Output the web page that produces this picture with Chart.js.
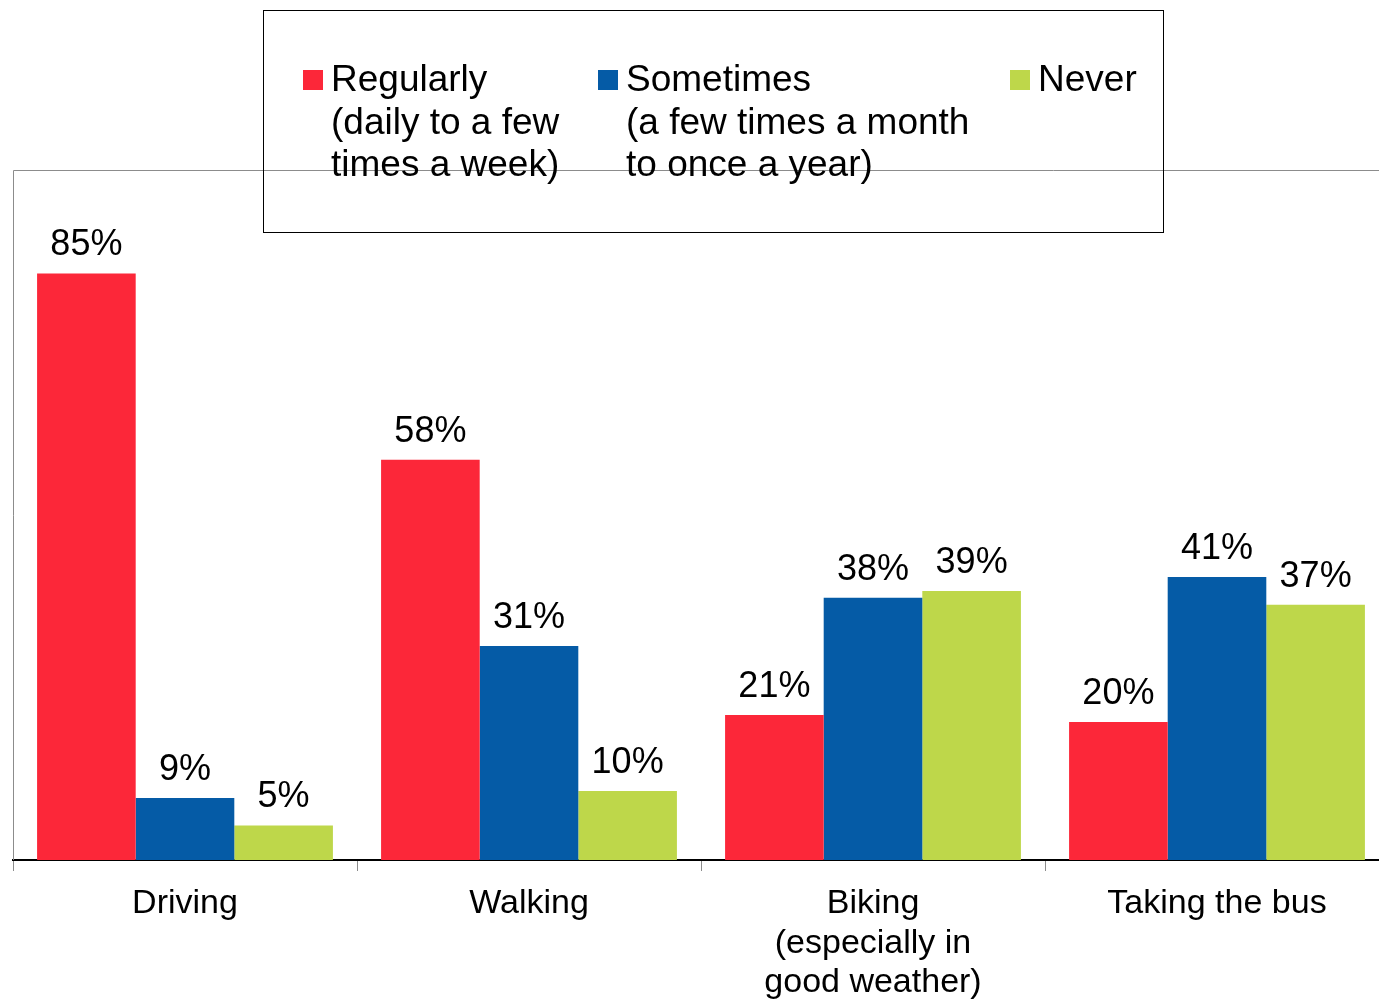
<!DOCTYPE html>
<html>
<head>
<meta charset="utf-8">
<script src="https://cdn.jsdelivr.net/npm/chart.js@4/dist/chart.umd.min.js"></script>
<style>
  html, body { margin: 0; padding: 0; background: #fff; overflow: hidden; }
  #wrap { width: 1400px; height: 999px; }
</style>
</head>
<body>
<div id="wrap"><canvas id="travelChart"></canvas></div>
<script>
const categories = ['Driving', 'Walking', ['Biking', '(especially in', 'good weather)'], 'Taking the bus'];
const regularly = [85, 58, 21, 20];
const sometimes = [9, 31, 38, 41];
const never = [5, 10, 39, 37];
const seriesNames = ['Regularly', 'Sometimes', 'Never'];
const legendLines = [
    ['Regularly', '(daily to a few', 'times a week)'],
    ['Sometimes', '(a few times a month', 'to once a year)'],
    ['Never']
];
const colors = ['#fc2739', '#055ba6', '#bed74a'];

const FONT = '"Liberation Sans", Arial, sans-serif';

// frame lines, legend box and value labels
const extras = {
    id: 'extras',
    afterDatasetsDraw(chart) {
        const ctx = chart.ctx;
        const area = chart.chartArea;
        ctx.save();

        // top + left frame
        ctx.strokeStyle = '#8c8c8c';
        ctx.lineWidth = 1;
        ctx.beginPath();
        ctx.moveTo(area.left + 0.5, area.bottom);
        ctx.lineTo(area.left + 0.5, area.top + 0.5);
        ctx.lineTo(chart.width, area.top + 0.5);
        ctx.stroke();

        // value labels
        ctx.fillStyle = '#000';
        ctx.font = '36px ' + FONT;
        ctx.textAlign = 'center';
        ctx.textBaseline = 'bottom';
        chart.data.datasets.forEach((ds, i) => {
            chart.getDatasetMeta(i).data.forEach((bar, j) => {
                ctx.fillText(ds.data[j] + '%', bar.x, bar.y - 10);
            });
        });

        // legend box
        ctx.strokeStyle = '#000';
        ctx.strokeRect(263.5, 10.5, 900, 222);
        const cols = [303, 598, 1010];
        ctx.font = '37px ' + FONT;
        ctx.textAlign = 'left';
        ctx.textBaseline = 'middle';
        legendLines.forEach((lines, i) => {
            ctx.fillStyle = chart.data.datasets[i].backgroundColor;
            ctx.fillRect(cols[i], 70, 20, 20);
            ctx.fillStyle = '#000';
            lines.forEach((line, k) => {
                ctx.fillText(line, cols[i] + 28, 81 + k * 42.5);
            });
        });
        ctx.restore();
    }
};

new Chart(document.getElementById('travelChart'), {
    type: 'bar',
    data: {
        labels: categories,
        datasets: [regularly, sometimes, never].map((vals, i) => ({
            label: seriesNames[i],
            data: vals,
            backgroundColor: colors[i],
            borderWidth: 0,
            categoryPercentage: 0.86,
            barPercentage: 1.0
        }))
    },
    options: {
        responsive: true,
        maintainAspectRatio: false,
        animation: false,
        layout: { padding: { top: 170, left: 13, right: 11, bottom: 0 } },
        plugins: {
            legend: { display: false },
            tooltip: { enabled: false }
        },
        scales: {
            y: {
                display: false,
                min: 0,
                max: 100
            },
            x: {
                afterFit(scale) { scale.height = 139; },
                border: { color: '#000', width: 2 },
                grid: {
                    offset: true,
                    drawOnChartArea: false,
                    tickLength: 11,
                    color: '#8c8c8c'
                },
                ticks: {
                    color: '#000',
                    padding: 13,
                    maxRotation: 0,
                    autoSkip: false,
                    font: { family: FONT, size: 34, lineHeight: 1.16 }
                }
            }
        }
    },
    plugins: [extras]
});
</script>
</body>
</html>
